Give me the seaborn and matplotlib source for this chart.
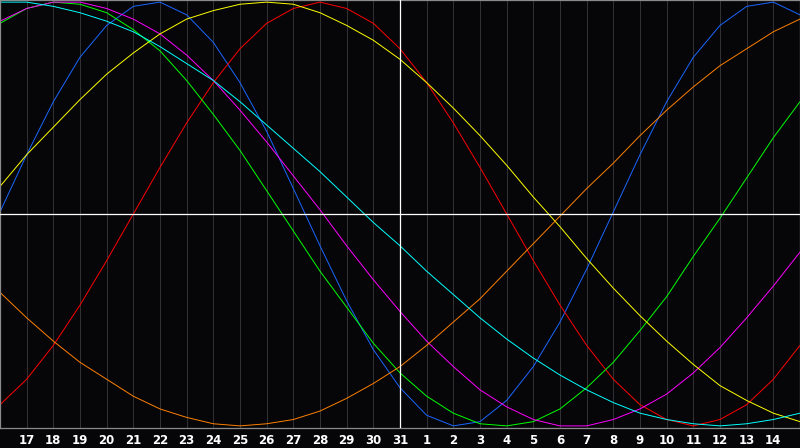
"""Biyoritim grafiği: yedi döngü, 16 -> 15 (sonraki ay) arası günler."""

import matplotlib

matplotlib.use("Agg")

import matplotlib.pyplot as plt  # noqa: E402
import pandas as pd  # noqa: E402
import seaborn as sns  # noqa: E402

BG = "#060609"
GRID = "#333336"
FRAME = "#8a8a8a"

# gün numaraları (x ekseni, 0..30 konumları); uçtaki 16 ve 15 etiketlenmiyor
DAYS = [16, 17, 18, 19, 20, 21, 22, 23, 24, 25, 26, 27, 28, 29, 30, 31,
        1, 2, 3, 4, 5, 6, 7, 8, 9, 10, 11, 12, 13, 14, 15]
TODAY = 31

# değerler yüzde (-100..100), her gün için
physical = [1, 28, 53, 74, 89, 98, 100, 94, 81, 62, 39, 12, -15, -41, -64, -82,
            -95, -100, -98, -88, -72, -51, -26, 1, 28, 53, 74, 89, 98, 100, 94]
emotional = [-90, -78, -62, -43, -22, 0, 22, 43, 62, 78, 90, 97, 100, 97, 90, 78,
             62, 43, 22, 0, -22, -43, -62, -78, -90, -97, -100, -97, -90, -78, -62]
intellectual = [90, 97, 100, 99, 95, 87, 77, 63, 47, 30, 11, -8, -27, -44, -61, -75,
                -86, -94, -99, -100, -98, -92, -82, -70, -55, -39, -20, -2, 17, 36, 53]
intuitive = [91, 97, 100, 100, 97, 92, 85, 75, 63, 49, 34, 18, 2, -15, -31, -46,
             -60, -72, -83, -91, -97, -100, -100, -97, -92, -85, -75, -63, -49, -34, -18]
aesthetic = [13, 28, 41, 54, 66, 76, 85, 92, 96, 99, 100, 99, 95, 89, 82, 73,
             62, 50, 37, 23, 8, -6, -21, -35, -48, -60, -71, -81, -88, -94, -98]
awareness = [-37, -49, -60, -70, -78, -86, -92, -96, -99, -100, -99, -97, -93, -87, -80, -72,
             -62, -51, -40, -27, -14, -1, 12, 24, 37, 49, 60, 70, 78, 86, 92]
spiritual = [100, 100, 98, 95, 91, 86, 79, 71, 63, 53, 42, 31, 20, 8, -4, -15,
             -27, -38, -49, -59, -68, -76, -83, -89, -94, -97, -99, -100, -99, -97, -94]

CYCLES = {
    "physical": physical,
    "emotional": emotional,
    "intellectual": intellectual,
    "intuitive": intuitive,
    "aesthetic": aesthetic,
    "awareness": awareness,
    "spiritual": spiritual,
}
COLORS = {
    "physical": "#1a66ff",
    "emotional": "#ff0000",
    "intellectual": "#00ff00",
    "intuitive": "#ff00ff",
    "aesthetic": "#ffff00",
    "awareness": "#ff8000",
    "spiritual": "#00ffff",
}

pos = list(range(len(DAYS)))
df = pd.concat(
    [pd.DataFrame({"pos": pos, "value": vals, "cycle": name}) for name, vals in CYCLES.items()],
    ignore_index=True,
)

fig = plt.figure(figsize=(8, 4.48), dpi=100, facecolor=BG)
ax = fig.add_axes([0, 20 / 448, 1, 428 / 448], facecolor=BG)

for p in pos[1:-1]:
    ax.axvline(p, color=GRID, lw=0.7, zorder=0)

sns.lineplot(data=df, x="pos", y="value", hue="cycle", palette=COLORS,
             estimator=None, sort=False, linewidth=0.7, legend=False, ax=ax,
             zorder=2)

ax.axhline(0, color="white", lw=0.9, zorder=3)
ax.axvline(DAYS.index(TODAY), color="white", lw=0.9, zorder=3)

ax.set_xlim(0, len(DAYS) - 1)
ax.set_ylim(-101, 101)
ax.set_xticks(pos[1:-1])
ax.set_xticklabels([str(d) for d in DAYS[1:-1]], color="white",
                   fontweight="bold", fontsize=8.5)
ax.set_yticks([])
ax.tick_params(axis="x", length=0, pad=4)
ax.set_xlabel("")
ax.set_ylabel("")
for spine in ax.spines.values():
    spine.set_color(FRAME)
    spine.set_linewidth(0.9)

fig.savefig("out.png", dpi=100, facecolor=BG)
